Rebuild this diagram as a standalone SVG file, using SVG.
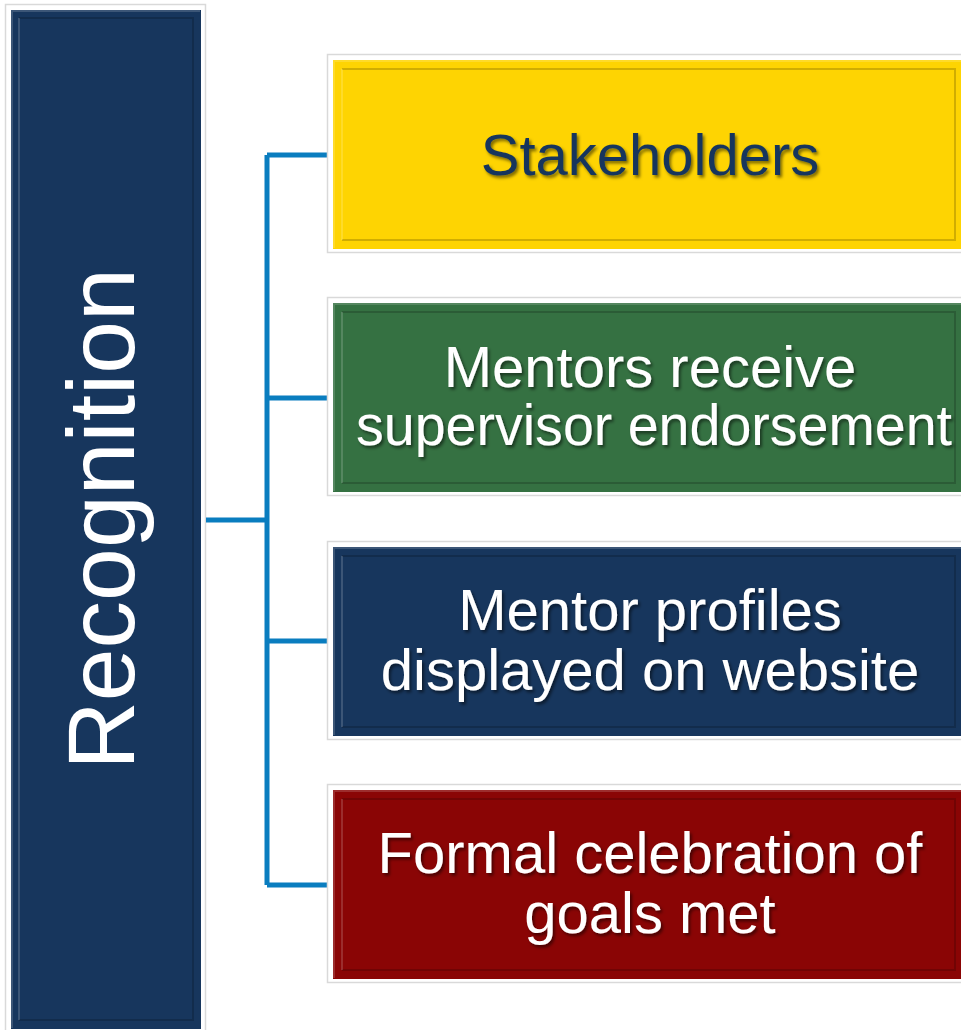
<svg xmlns="http://www.w3.org/2000/svg" width="961" height="1030" viewBox="0 0 961 1030">
  <defs>
    <filter id="txtShadow" x="-10%" y="-20%" width="120%" height="150%">
      <feDropShadow dx="2" dy="2.5" stdDeviation="1.6" flood-color="#000" flood-opacity="0.5"/>
    </filter>
    <style>
      .frame { fill: #fff; stroke: #d9d9d9; stroke-width: 1.5; }
      .bevelHi { fill: none; stroke: #ffffff; stroke-opacity: 0.16; stroke-width: 2; }
      .bevelLo { fill: none; stroke: #000000; stroke-opacity: 0.18; stroke-width: 2; }
      .label { font-family: "Liberation Sans", Arial, sans-serif; font-size: 58px; text-anchor: middle; filter: url(#txtShadow); }
      .light { fill: #ffffff; }
      .dark { fill: #17365d; }
      .conn { fill: none; stroke: #0a7dbf; stroke-width: 5; }
    </style>
  </defs>

  <rect width="961" height="1030" fill="#ffffff"/>

  <!-- root node -->
  <g id="recognition">
    <rect class="frame" x="5.5" y="4.5" width="200" height="1040"/>
    <rect x="11" y="10" width="190" height="1019" fill="#17365d"/>
    <path class="bevelHi" d="M12 1028 V11 H200"/>
    <path class="bevelLo" d="M19 18 H193 V1020 H19"/>
    <path class="bevelHi" d="M19 1020 V18"/>
    <text class="label light" transform="translate(134 519) rotate(-90)" style="font-size:95px;filter:none">Recognition</text>
  </g>

  <!-- connectors -->
  <g id="connectors">
    <path class="conn" d="M206 520 H267"/>
    <path class="conn" d="M267 155 V885"/>
    <path class="conn" d="M267 155 H328"/>
    <path class="conn" d="M267 398 H328"/>
    <path class="conn" d="M267 641 H328"/>
    <path class="conn" d="M267 885 H328"/>
  </g>

  <!-- child nodes -->
  <g id="stakeholders">
    <rect class="frame" x="327.5" y="54.5" width="640" height="198"/>
    <rect x="333" y="60" width="630" height="189" fill="#fed402"/>
    <path class="bevelHi" d="M334 248 V61 H962"/>
    <path class="bevelLo" d="M342 69 H955 V240 H342"/>
    <path class="bevelHi" d="M342 240 V69"/>
    <text class="label dark" x="650" y="175">Stakeholders</text>
  </g>

  <g id="supervisor-endorsement">
    <rect class="frame" x="327.5" y="297.5" width="640" height="198"/>
    <rect x="333" y="303" width="630" height="189" fill="#357142"/>
    <path class="bevelHi" d="M334 491 V304 H962"/>
    <path class="bevelLo" d="M342 312 H955 V483 H342"/>
    <path class="bevelHi" d="M342 483 V312"/>
    <text class="label light" x="650" y="387">Mentors receive</text>
    <text class="label light" x="654" y="445" textLength="596" lengthAdjust="spacingAndGlyphs">supervisor endorsement</text>
  </g>

  <g id="mentor-profiles">
    <rect class="frame" x="327.5" y="541.5" width="640" height="198"/>
    <rect x="333" y="547" width="630" height="189" fill="#17365d"/>
    <path class="bevelHi" d="M334 735 V548 H962"/>
    <path class="bevelLo" d="M342 556 H955 V727 H342"/>
    <path class="bevelHi" d="M342 727 V556"/>
    <text class="label light" x="650" y="630">Mentor profiles</text>
    <text class="label light" x="650" y="690">displayed on website</text>
  </g>

  <g id="formal-celebration">
    <rect class="frame" x="327.5" y="784.5" width="640" height="198"/>
    <rect x="333" y="790" width="630" height="189" fill="#8a0505"/>
    <path class="bevelHi" d="M334 978 V791 H962"/>
    <path class="bevelLo" d="M342 799 H955 V970 H342"/>
    <path class="bevelHi" d="M342 970 V799"/>
    <text class="label light" x="650" y="873">Formal celebration of</text>
    <text class="label light" x="650" y="933">goals met</text>
  </g>
</svg>
